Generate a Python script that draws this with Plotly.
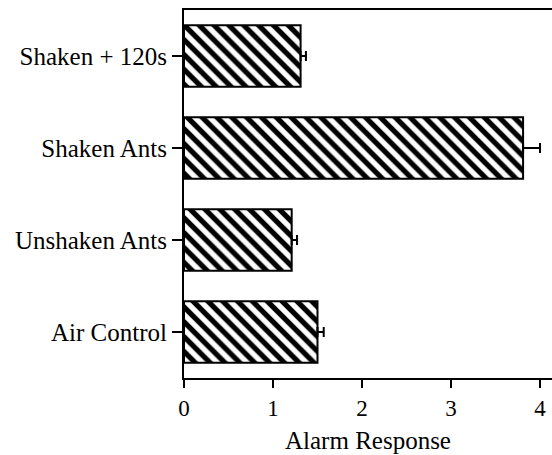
import plotly.graph_objects as go

categories = ["Air Control", "Unshaken Ants", "Shaken Ants", "Shaken + 120s"]
values = [1.50, 1.21, 3.81, 1.31]
errors = [0.07, 0.06, 0.19, 0.06]
x_ticks = [0, 1, 2, 3, 4]

FONT = "Liberation Serif, Times New Roman, serif"

fig = go.Figure()
fig.add_trace(go.Bar(
    y=categories,
    x=values,
    orientation="h",
    width=0.67,
    marker=dict(
        color="white",
        line=dict(color="black", width=2),
        pattern=dict(shape="\\", fgcolor="black", bgcolor="white",
                     fgopacity=1, size=10.5, solidity=0.5),
    ),
    error_x=dict(
        type="data",
        symmetric=False,
        array=errors,
        arrayminus=[0] * len(errors),
        color="black",
        thickness=2,
        width=5,
    ),
))

fig.update_layout(
    width=552,
    height=455,
    margin=dict(l=184, r=0, t=10, b=77),
    paper_bgcolor="white",
    plot_bgcolor="white",
    showlegend=False,
    font=dict(family=FONT, size=25, color="black"),
)
fig.update_xaxes(
    range=[0, 4.135],
    tickvals=x_ticks,
    ticktext=[str(t) for t in x_ticks],
    automargin=False,
    showline=True,
    linecolor="black",
    linewidth=2,
    mirror=True,
    ticks="outside",
    ticklen=8,
    tickwidth=2,
    tickcolor="black",
    showgrid=False,
    zeroline=False,
    title=dict(text="Alarm Response", font=dict(family=FONT, size=25), standoff=12),
    tickfont=dict(family=FONT, size=23),
)
fig.update_yaxes(
    categoryorder="array",
    categoryarray=categories,
    range=[-0.5, 3.5],
    automargin=False,
    showline=True,
    linecolor="black",
    linewidth=2,
    ticks="outside",
    ticklen=10,
    tickwidth=2,
    tickcolor="black",
    showgrid=False,
    zeroline=False,
    tickfont=dict(family=FONT, size=25),
)

fig.write_html(
    "out.html",
    config={"displayModeBar": False},
    post_script="document.body.style.margin='0';document.body.style.overflow='hidden';",
)
